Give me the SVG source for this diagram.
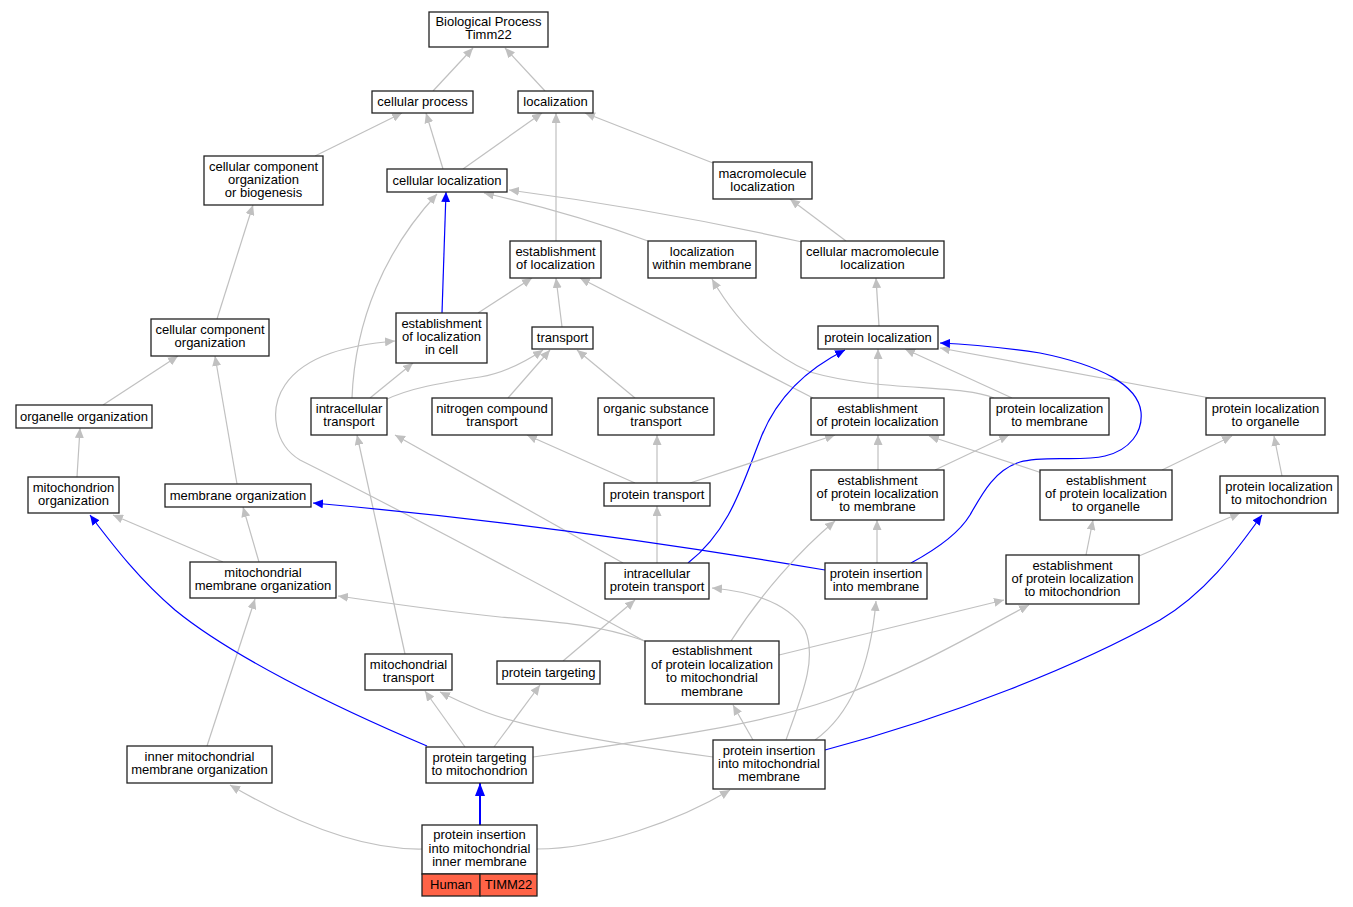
<svg xmlns="http://www.w3.org/2000/svg" width="1353" height="907" viewBox="0 0 1353 907">
<style>
.n rect{fill:#fff;stroke:#222;stroke-width:1.3}
.n rect.h{fill:#ff6347}
text{font-family:"Liberation Sans",Arial,sans-serif;font-size:13px;text-anchor:middle;fill:#000}
.e path{fill:none;stroke:#c0c0c0;stroke-width:1.2;marker-end:url(#ag)}
.e path.b{stroke:#0000ff;marker-end:url(#ab)}
.e path.bb{stroke:#0000ff;stroke-width:2;marker-end:url(#abb)}
</style>
<defs>
<marker id="ag" viewBox="0 0 10 9" refX="10" refY="4.5" markerWidth="10" markerHeight="9" markerUnits="userSpaceOnUse" orient="auto"><path d="M0,0 L10,4.5 L0,9 z" fill="#c0c0c0"/></marker>
<marker id="ab" viewBox="0 0 10 9" refX="10" refY="4.5" markerWidth="10" markerHeight="9" markerUnits="userSpaceOnUse" orient="auto"><path d="M0,0 L10,4.5 L0,9 z" fill="#0000ff"/></marker>
<marker id="abb" viewBox="0 0 13 10" refX="13" refY="5" markerWidth="13" markerHeight="10" markerUnits="userSpaceOnUse" orient="auto"><path d="M0,0 L13,5 L0,10 z" fill="#0000ff"/></marker>
</defs>
<rect width="1353" height="907" fill="#fff"/>
<g id="edges" class="e">
<path d="M433,91 L473,48"/>
<path d="M545,91 L505,48"/>
<path d="M443,169 L426,113"/>
<path d="M463,169 L542,113"/>
<path d="M315,156 L402,113"/>
<path d="M713,163 L585,113"/>
<path d="M556,241 L556,113"/>
<path d="M846,241 L790,199"/>
<path d="M802,242 Q660,210 509,190"/>
<path d="M648,241 Q570,212 484,193"/>
<path class="b" d="M442,313 L446,192"/>
<path d="M352,398 C355,320 385,250 437,194"/>
<path d="M478,313 L532,278"/>
<path d="M562,327 L556,278"/>
<path d="M813,398 L580,278"/>
<path d="M994,398 C960,384 880,392 810,372 C760,350 730,310 712,279"/>
<path d="M879,326 L876,278"/>
<path d="M878,398 L878,349"/>
<path d="M1012,398 L905,349"/>
<path d="M1210,398 L940,348"/>
<path class="b" d="M911,563 C935,550 958,535 970,515 C983,492 995,470 1020,462 C1045,455 1080,462 1105,456 C1130,450 1143,432 1141,412 C1138,385 1100,365 1040,353 C1000,347 965,344 940,343"/>
<path class="b" d="M688,563 C730,530 742,485 760,440 C775,400 805,370 845,350"/>
<path d="M508,398 L550,350"/>
<path d="M635,398 L577,350"/>
<path d="M385,400 C410,388 440,383 480,377 C505,373 525,362 543,350"/>
<path d="M370,398 L413,363"/>
<path d="M648,643 C550,590 420,520 300,460 C275,445 268,410 285,385 C305,355 350,345 395,341"/>
<path d="M623,563 L395,435"/>
<path d="M405,654 L357,435"/>
<path d="M690,483 L835,435"/>
<path d="M635,483 L527,435"/>
<path d="M657,483 L657,435"/>
<path d="M657,563 L657,506"/>
<path d="M878,470 L878,435"/>
<path d="M935,470 L1009,435"/>
<path d="M1042,473 L929,436"/>
<path d="M1162,470 L1232,436"/>
<path d="M1282,476 L1274,436"/>
<path d="M1086,555 L1093,520"/>
<path d="M1139,556 L1240,513"/>
<path d="M877,563 L877,520"/>
<path class="b" d="M825,570 Q560,525 313,503"/>
<path d="M223,562 L113,515"/>
<path d="M259,562 L243,507"/>
<path d="M77,477 L80,428"/>
<path d="M103,405 L178,356"/>
<path d="M237,484 L215,356"/>
<path d="M217,319 L253,205"/>
<path d="M207,746 L255,599"/>
<path class="b" d="M427,746 C330,705 230,655 175,610 C140,580 115,548 90,515"/>
<path d="M465,747 L425,691"/>
<path d="M494,747 L540,685"/>
<path d="M563,661 L635,600"/>
<path d="M533,757 C650,740 760,725 830,700 C920,668 980,630 1029,605"/>
<path d="M779,655 L1004,600"/>
<path d="M731,641 C760,595 800,550 835,521"/>
<path d="M645,641 C600,625 560,622 500,617 C440,611 380,602 338,596"/>
<path d="M753,740 L733,705"/>
<path d="M786,740 C800,700 818,660 805,630 C790,605 755,592 712,588"/>
<path d="M815,740 C850,715 870,670 876,601"/>
<path d="M713,757 C620,745 530,730 480,710 C465,704 452,698 440,692"/>
<path class="b" d="M825,750 C950,717 1080,665 1160,620 C1210,590 1240,545 1262,515"/>
<path class="bb" d="M480,825 L480,783"/>
<path d="M422,849 C360,850 290,820 230,785"/>
<path d="M537,849 C600,849 680,820 730,790"/>
</g>
<g id="n1" class="n"><rect x="429" y="12" width="119" height="35"/><text x="488.5" y="26">Biological Process</text><text x="488.5" y="39">Timm22</text></g>
<g id="n2" class="n"><rect x="372" y="91" width="101" height="22"/><text x="422.5" y="106">cellular process</text></g>
<g id="n3" class="n"><rect x="518" y="91" width="75" height="22"/><text x="555.5" y="106">localization</text></g>
<g id="n4" class="n"><rect x="387" y="169" width="120" height="23"/><text x="447" y="184.5">cellular localization</text></g>
<g id="n5" class="n"><rect x="713" y="162" width="99" height="37"/><text x="762.5" y="177.5">macromolecule</text><text x="762.5" y="190.5">localization</text></g>
<g id="n6" class="n"><rect x="204" y="156" width="119" height="49"/><text x="263.5" y="171">cellular component</text><text x="263.5" y="184">organization</text><text x="263.5" y="197">or biogenesis</text></g>
<g id="n7" class="n"><rect x="510" y="241" width="91" height="37"/><text x="555.5" y="256">establishment</text><text x="555.5" y="269">of localization</text></g>
<g id="n8" class="n"><rect x="648" y="241" width="108" height="37"/><text x="702" y="256">localization</text><text x="702" y="269">within membrane</text></g>
<g id="n9" class="n"><rect x="801" y="241" width="143" height="37"/><text x="872.5" y="256">cellular macromolecule</text><text x="872.5" y="269">localization</text></g>
<g id="n10" class="n"><rect x="151" y="319" width="118" height="37"/><text x="210" y="334">cellular component</text><text x="210" y="347">organization</text></g>
<g id="n11" class="n"><rect x="396" y="313" width="91" height="50"/><text x="441.5" y="327.5">establishment</text><text x="441.5" y="340.5">of localization</text><text x="441.5" y="353.5">in cell</text></g>
<g id="n12" class="n"><rect x="532" y="327" width="61" height="22"/><text x="562.5" y="342">transport</text></g>
<g id="n13" class="n"><rect x="818" y="326" width="120" height="23"/><text x="878" y="341.5">protein localization</text></g>
<g id="n14" class="n"><rect x="16" y="405" width="136" height="23"/><text x="84" y="420.5">organelle organization</text></g>
<g id="n15" class="n"><rect x="311" y="398" width="76" height="37"/><text x="349" y="413">intracellular</text><text x="349" y="426">transport</text></g>
<g id="n16" class="n"><rect x="432" y="398" width="120" height="37"/><text x="492" y="413">nitrogen compound</text><text x="492" y="426">transport</text></g>
<g id="n17" class="n"><rect x="598" y="398" width="116" height="37"/><text x="656" y="413">organic substance</text><text x="656" y="426">transport</text></g>
<g id="n18" class="n"><rect x="811" y="398" width="133" height="37"/><text x="877.5" y="413">establishment</text><text x="877.5" y="426">of protein localization</text></g>
<g id="n19" class="n"><rect x="990" y="398" width="119" height="37"/><text x="1049.5" y="413">protein localization</text><text x="1049.5" y="426">to membrane</text></g>
<g id="n20" class="n"><rect x="1206" y="398" width="119" height="37"/><text x="1265.5" y="413">protein localization</text><text x="1265.5" y="426">to organelle</text></g>
<g id="n21" class="n"><rect x="28" y="477" width="91" height="36"/><text x="73.5" y="491.5">mitochondrion</text><text x="73.5" y="504.5">organization</text></g>
<g id="n22" class="n"><rect x="165" y="484" width="146" height="23"/><text x="238" y="499.5">membrane organization</text></g>
<g id="n23" class="n"><rect x="604" y="483" width="106" height="23"/><text x="657" y="498.5">protein transport</text></g>
<g id="n24" class="n"><rect x="811" y="470" width="133" height="50"/><text x="877.5" y="484.5">establishment</text><text x="877.5" y="497.5">of protein localization</text><text x="877.5" y="510.5">to membrane</text></g>
<g id="n25" class="n"><rect x="1040" y="470" width="132" height="50"/><text x="1106" y="484.5">establishment</text><text x="1106" y="497.5">of protein localization</text><text x="1106" y="510.5">to organelle</text></g>
<g id="n26" class="n"><rect x="1220" y="476" width="118" height="37"/><text x="1279" y="491">protein localization</text><text x="1279" y="504">to mitochondrion</text></g>
<g id="n27" class="n"><rect x="190" y="562" width="146" height="36"/><text x="263" y="576.5">mitochondrial</text><text x="263" y="589.5">membrane organization</text></g>
<g id="n28" class="n"><rect x="605" y="563" width="104" height="36"/><text x="657" y="577.5">intracellular</text><text x="657" y="590.5">protein transport</text></g>
<g id="n29" class="n"><rect x="825" y="563" width="102" height="36"/><text x="876" y="577.5">protein insertion</text><text x="876" y="590.5">into membrane</text></g>
<g id="n30" class="n"><rect x="1006" y="555" width="133" height="49"/><text x="1072.5" y="569.5">establishment</text><text x="1072.5" y="582.5">of protein localization</text><text x="1072.5" y="595.5">to mitochondrion</text></g>
<g id="n31" class="n"><rect x="365" y="654" width="87" height="36"/><text x="408.5" y="668.5">mitochondrial</text><text x="408.5" y="681.5">transport</text></g>
<g id="n32" class="n"><rect x="497" y="661" width="103" height="23"/><text x="548.5" y="676.5">protein targeting</text></g>
<g id="n33" class="n"><rect x="645" y="641" width="134" height="63"/><text x="712" y="655">establishment</text><text x="712" y="668.5">of protein localization</text><text x="712" y="682">to mitochondrial</text><text x="712" y="695.5">membrane</text></g>
<g id="n34" class="n"><rect x="127" y="746" width="145" height="37"/><text x="199.5" y="761">inner mitochondrial</text><text x="199.5" y="774">membrane organization</text></g>
<g id="n35" class="n"><rect x="426" y="747" width="107" height="36"/><text x="479.5" y="761.5">protein targeting</text><text x="479.5" y="774.5">to mitochondrion</text></g>
<g id="n36" class="n"><rect x="713" y="740" width="112" height="49"/><text x="769" y="754.5">protein insertion</text><text x="769" y="767.5">into mitochondrial</text><text x="769" y="781">membrane</text></g>
<g id="n37" class="n"><rect x="422" y="825" width="115" height="49"/><text x="479.5" y="839">protein insertion</text><text x="479.5" y="852.5">into mitochondrial</text><text x="479.5" y="866">inner membrane</text><rect class="h" x="422" y="874" width="58" height="22"/><rect class="h" x="480" y="874" width="57" height="22"/><text x="451" y="888.5">Human</text><text x="508.5" y="888.5">TIMM22</text></g>
</svg>
